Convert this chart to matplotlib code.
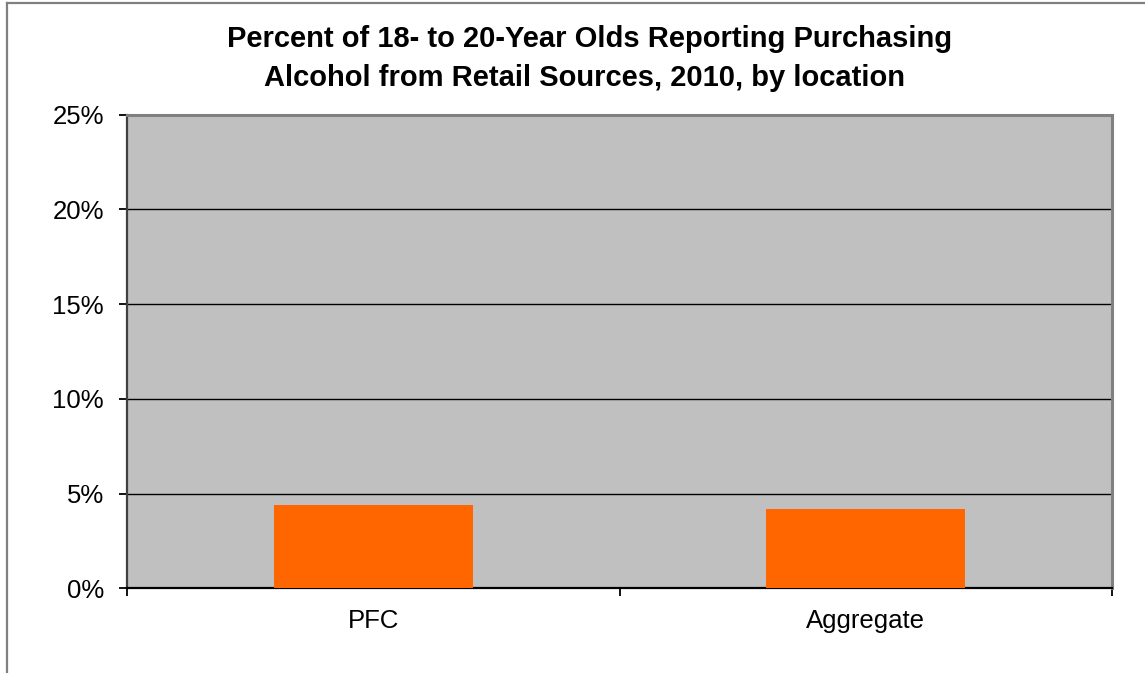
import matplotlib
matplotlib.use("Agg")
import matplotlib.pyplot as plt
from matplotlib.lines import Line2D
from matplotlib.ticker import FixedLocator, FuncFormatter

plt.rcParams['font.family'] = ['Liberation Sans', 'DejaVu Sans']

# Data
locations = ["PFC", "Aggregate"]
percent_purchasing = [4.4, 4.2]
title_lines = ["Percent of 18- to 20-Year Olds Reporting Purchasing",
               "Alcohol from Retail Sources, 2010, by location"]
y_ticks = [0, 5, 10, 15, 20, 25]

W, H = 1145, 673
fig = plt.figure(figsize=(W / 100, H / 100), dpi=100)
fig.patch.set_facecolor("white")

ax = fig.add_axes([126.7 / W, 1 - 588.3 / H, (1112.3 - 126.7) / W, (588.3 - 114.5) / H])
ax.set_facecolor("#C0C0C0")

x = range(len(locations))
ax.bar(x, percent_purchasing, width=0.404, color="#FF6600", zorder=3)

ax.set_xlim(-0.5, len(locations) - 0.5)
ax.set_ylim(0, 25)

# Horizontal gridlines
ax.yaxis.set_major_locator(FixedLocator(y_ticks))
ax.yaxis.set_major_formatter(FuncFormatter(lambda v, p: f"{v:.0f}%"))
for v in y_ticks[1:-1]:
    ax.axhline(v, color="black", linewidth=1.0, zorder=2)

# Category ticks at boundaries, labels centered
ax.set_xticks([i - 0.5 for i in range(len(locations) + 1)])
ax.set_xticklabels([""] * (len(locations) + 1))
ax.set_xticks(list(x), minor=True)
ax.set_xticklabels(locations, minor=True)
ax.tick_params(axis="x", which="major", direction="out", length=5.5, width=1.3, color="black")
ax.tick_params(axis="x", which="minor", length=0, labelsize=18.5, pad=15)
ax.tick_params(axis="y", direction="out", length=5.5, width=1.3, color="black",
               labelsize=18.5, pad=11)

for side in ("top", "right"):
    ax.spines[side].set_color("#808080")
    ax.spines[side].set_linewidth(2.2)
ax.spines["left"].set_color("#404040")
ax.spines["left"].set_linewidth(1.6)
ax.spines["bottom"].set_color("black")
ax.spines["bottom"].set_linewidth(1.6)

# Title
fig.text(590 / W, 1 - 47 / H, title_lines[0], ha="center", va="baseline",
         fontsize=21, fontweight="bold")
fig.text(584 / W, 1 - 86 / H, title_lines[1], ha="center", va="baseline",
         fontsize=21, fontweight="bold")

# Chart-area frame (left and top edges)
fig.add_artist(Line2D([7 / W, 7 / W], [0, 1 - 3 / H], color="#808080", linewidth=1.6))
fig.add_artist(Line2D([7 / W, 1], [1 - 3 / H, 1 - 3 / H], color="#808080", linewidth=1.6))

fig.savefig("out.png", dpi=100)
